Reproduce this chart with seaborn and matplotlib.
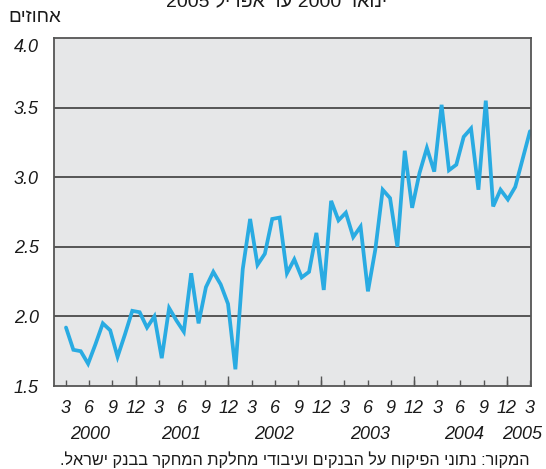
import numpy as np
import pandas as pd
import matplotlib
matplotlib.use("Agg")
import matplotlib.pyplot as plt
import matplotlib.transforms as mtransforms
import seaborn as sns
import re

# ---- data ----
values = [1.92, 1.76, 1.75, 1.66, 1.80, 1.95, 1.90, 1.71, 1.87, 2.04,
          2.03, 1.92, 2.00, 1.70, 2.06, 1.97, 1.89, 2.31, 1.95, 2.21,
          2.32, 2.23, 2.09, 1.62, 2.34, 2.70, 2.37, 2.45, 2.70, 2.71,
          2.31, 2.41, 2.28, 2.32, 2.60, 2.19, 2.83, 2.69, 2.745, 2.57,
          2.645, 2.18, 2.48, 2.91, 2.85, 2.50, 3.19, 2.78, 3.03, 3.21,
          3.04, 3.52, 3.05, 3.09, 3.29, 3.35, 2.91, 3.55, 2.79, 2.91,
          2.84, 2.93, 3.13, 3.33]
tick_labels = ["3", "6", "9", "12"] * 5 + ["3"]
year_labels = ["2000", "2001", "2002", "2003", "2004", "2005"]
y_ticks = [1.5, 2.0, 2.5, 3.0, 3.5, 4.0]
title_text = "ינואר 2000 עד אפריל 2005"
unit_text = "אחוזים"
source_text = "המקור: נתוני הפיקוח על הבנקים ועיבודי מחלקת המחקר בבנק ישראל."


def visual(s):
    """Convert logical-order Hebrew string to visual order for matplotlib."""
    r = s[::-1]
    return re.sub(r"[0-9.,]+[0-9]|[0-9]+", lambda m: m.group(0)[::-1], r)


df = pd.DataFrame({"idx": np.arange(len(values)), "value": values})

sns.set_theme(style="white")
plt.rcParams["font.family"] = ["Liberation Sans", "DejaVu Sans"]

W, H = 546, 469
fig = plt.figure(figsize=(W / 100, H / 100), dpi=100)
left, right, top, bottom = 54, 531, 38, 386
ax = fig.add_axes([left / W, 1 - bottom / H, (right - left) / W, (bottom - top) / H])
ax.set_facecolor("#E6E7E8")

sns.lineplot(data=df, x="idx", y="value", ax=ax, color="#29ABE2",
             linewidth=2.7, solid_joinstyle="miter")

n = len(values)
ax.set_xlim(-1.63, n - 1 + 0.14)
ax.set_ylim(1.5, 4.0)

# grid lines
for yv in y_ticks[1:-1]:
    ax.axhline(yv, color="#4a4a4a", linewidth=1.3, zorder=1)

for sp in ax.spines.values():
    sp.set_color("#555555")
    sp.set_linewidth(1.3)
    sp.set_visible(True)

# x ticks
xt = np.linspace(0, n - 1, len(tick_labels))
ax.set_xticks(xt)
ax.set_xticklabels(tick_labels, fontsize=13, style="italic", color="#1a1a1a")
ax.tick_params(axis="x", which="major", direction="in", length=4.5, width=1,
               color="#555555", pad=10, bottom=True)
ax.xaxis.remove_overlapping_locs = False
ax.set_xticks(xt[3::4], minor=True)
ax.tick_params(axis="x", which="minor", direction="in", length=7.5, width=1,
               color="#555555", bottom=True)

# y ticks
ax.set_yticks(y_ticks)
ax.set_yticklabels([f"{v:.1f}" for v in y_ticks], fontsize=13, style="italic",
                   color="#1a1a1a")
ax.tick_params(axis="y", length=0, pad=11)
lbls = ax.get_yticklabels()
lbls[-1].set_transform(lbls[-1].get_transform() +
                       mtransforms.ScaledTranslation(0, -7 / 100, fig.dpi_scale_trans))
ax.set_xlabel("")
ax.set_ylabel("")

# year labels
year_x = [90, 181, 274, 370, 464, 522]
for yl, xp in zip(year_labels, year_x):
    fig.text(xp / W, 1 - 434 / H, yl, ha="center", va="center", fontsize=13,
             style="italic", color="#1a1a1a")

# unit label
fig.text(8 / W, 1 - 17 / H, visual(unit_text), ha="left", va="center",
         fontsize=13.5, color="#1a1a1a")

# partially visible title line at the very top (cut off, as in the reference)
fig.text(276 / W, 1 - 7 / H, visual(title_text), ha="center", va="baseline",
         fontsize=14, color="#1a1a1a")

# source note
fig.text(530 / W, 1 - 460 / H, visual(source_text), ha="right", va="center",
         fontsize=11.7, color="#1a1a1a")

fig.savefig("out.png", dpi=100, facecolor="white")
